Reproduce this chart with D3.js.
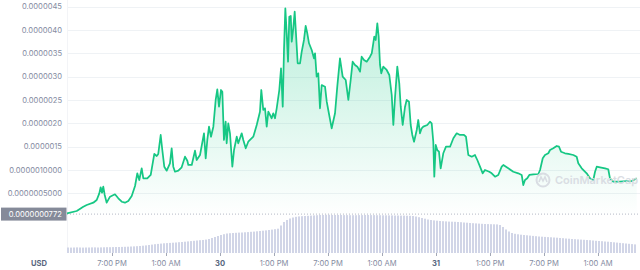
<!DOCTYPE html>
<html>
<head>
<meta charset="utf-8">
<script src="https://cdn.jsdelivr.net/npm/d3@7"></script>
<style>
  html, body { margin: 0; padding: 0; background: #fff; }
  svg { display: block; }
  text { font-family: Inter, "Liberation Sans", Arial, sans-serif; }
</style>
</head>
<body>
<svg id="chart" width="640" height="270"></svg>
<script>
// ---------- DATA ----------
const START = new Date(2022, 0, 29, 14, 0);   // first sample
const END = new Date(2022, 1, 1, 5, 40);      // right edge of plot
const PRICE_UNIT = 1e-7;                        // prices below are in units of 1e-7 USD

// hours since START
const priceHours = [
 0,1.08,1.81,2.19,2.92,3.3,3.59,3.74,3.89,4.03,4.19,4.41,4.78,5.33,5.7,6.08,6.44,6.81,7.19,7.56,
 7.81,8.03,8.3,8.48,8.92,9.3,9.52,9.7,9.97,10.14,10.41,10.59,10.81,11.08,11.44,11.63,11.81,12.0,12.37,12.74,
 13.11,13.37,13.48,13.86,14.22,14.41,14.78,15.22,15.41,15.59,15.78,16.0,16.26,16.52,16.7,16.89,17.11,17.26,17.44,17.63,
 17.74,17.92,18.11,18.37,18.56,18.86,19.03,19.41,19.59,19.86,20.14,20.7,21.08,21.44,21.59,21.81,22.0,22.19,22.37,22.56,
 22.74,22.92,23.11,23.3,23.59,23.78,23.97,24.11,24.26,24.41,24.56,24.7,24.86,24.97,25.14,25.3,25.44,25.63,25.89,26.08,
 26.33,26.52,26.7,26.89,27.19,27.44,27.56,27.74,27.92,28.11,28.3,28.67,28.86,29.03,29.41,29.78,30.03,30.33,30.63,30.97,
 31.26,31.52,31.74,32.0,32.26,32.56,32.74,33.0,33.3,33.67,33.86,34.03,34.14,34.3,34.48,34.63,34.78,34.92,35.14,35.52,
 35.81,36.08,36.26,36.44,36.7,36.92,37.08,37.3,37.56,37.74,38.0,38.19,38.37,38.56,38.86,39.03,39.22,39.41,39.59,40.03,
 40.33,40.52,40.7,40.81,40.97,41.14,41.33,41.52,41.81,42.11,42.56,42.93,43.3,43.67,44.11,44.33,44.59,44.97,45.33,45.59,
 45.89,46.19,46.44,46.92,47.19,47.56,47.92,48.3,48.48,49.03,49.59,50.14,50.52,50.7,50.89,51.14,51.37,51.81,52.37,52.56,
 52.86,53.11,53.48,53.67,54.03,54.41,54.67,54.89,55.33,55.7,56.26,56.63,56.81,57.19,57.74,58.11,58.48,58.67,58.86,59.22,
 59.78,60.14,60.33,60.7,61.44,62.19,62.74,63.11,63.3
];
const priceValues = [
 0.73,1.22,2.14,2.51,3.0,3.58,5.01,6.30,5.14,6.43,4.65,3.0,4.29,4.80,3.94,3.21,3.0,3.36,4.44,6.58,
 9.30,7.86,10.37,8.23,8.23,8.94,11.44,13.44,13.0,13.44,17.51,14.29,10.72,9.86,11.44,14.66,10.72,9.64,9.86,10.59,
 12.86,12.0,11.08,11.08,14.14,12.15,13.22,17.87,12.51,16.44,19.29,17.14,19.29,25.01,27.3,23.57,27.15,26.79,16.44,20.36,
 15.73,20.02,17.87,10.72,14.29,17.14,15.73,17.87,16.44,14.66,16.07,17.14,19.65,22.5,27.15,22.87,23.23,19.29,22.5,21.79,
 21.09,22.16,21.09,23.23,27.15,31.8,23.57,35.72,44.66,39.3,33.22,42.86,43.01,37.5,40.37,43.93,39.3,32.87,32.87,35.36,
 37.87,40.87,39.3,37.16,35.72,33.94,35.02,30.0,30.73,23.23,28.22,27.86,24.64,22.87,18.94,22.16,27.86,33.94,30.0,29.29,
 25.01,29.29,33.22,32.51,32.15,31.07,34.29,33.58,33.22,34.29,35.02,37.16,38.57,37.87,41.45,38.57,32.51,30.73,32.15,31.44,
 30.37,26.08,19.65,25.37,32.15,28.59,23.57,19.65,23.57,25.01,24.64,19.65,17.51,16.07,18.58,20.72,17.87,18.94,19.29,19.65,
 20.36,20.02,16.07,8.57,15.37,14.29,13.93,10.37,13.59,15.0,15.0,16.8,17.87,17.51,17.51,17.14,13.22,12.86,13.22,12.15,
 10.72,9.3,10.01,9.64,9.30,8.57,8.94,10.72,11.08,10.37,9.64,9.3,8.94,6.79,7.86,8.23,8.94,9.09,9.15,10.01,
 12.51,13.22,13.59,14.29,14.66,15.15,15.0,13.93,13.59,13.44,13.22,12.86,11.44,10.37,9.3,8.23,7.86,9.64,10.72,10.59,
 10.37,10.16,8.23,7.5,7.5,7.65,7.65,8.01,8.23
];

// volume, one bar every 20 minutes from START (arbitrary units)
const VOLUME_STEP_MIN = 20;
const volumes = [
 5.5,5.4,5.5,5.6,5.5,5.4,5.5,5.5,5.6,5.6,5.5,5.6,5.7,5.8,5.8,5.9,6.0,6.0,
 6.1,6.2,6.3,6.5,6.6,6.8,7.0,7.3,7.6,8.0,8.4,8.8,9.1,9.4,9.7,9.9,10.1,10.3,
 10.5,10.8,11.0,11.3,11.6,11.9,12.2,12.5,12.8,13.0,13.4,14.0,15.0,16.0,17.0,18.0,18.8,19.5,
 19.8,20.0,20.2,20.4,20.5,20.7,20.9,21.2,21.4,21.7,22.0,22.3,22.6,23.0,23.4,23.8,24.3,27.5,
 31.0,33.0,34.5,35.5,36.2,36.6,36.8,37.0,37.2,37.4,37.6,37.8,38.0,38.0,38.2,38.2,38.0,38.0,
 38.0,38.0,37.9,37.9,37.8,37.8,37.8,37.9,37.9,38.0,38.0,37.9,37.9,37.8,37.8,37.7,37.7,37.6,
 37.6,37.5,37.5,37.4,37.4,37.3,37.2,37.0,36.5,35.8,35.0,34.3,33.5,33.0,32.6,32.3,32.0,31.8,
 31.6,31.4,31.3,31.2,31.0,30.8,30.5,30.3,30.0,29.8,29.6,29.4,29.2,29.0,28.9,28.8,28.7,28.6,
 28.0,26.0,23.5,21.5,20.0,19.2,18.7,18.3,18.0,17.7,17.4,17.1,16.8,16.5,16.3,16.1,15.9,15.7,
 15.5,15.3,15.0,14.8,14.5,14.3,14.0,13.8,13.6,13.4,13.2,13.0,12.8,12.5,12.2,12.0,11.8,11.5,
 11.3,11.0,10.7,10.4,10.1,9.8,9.5,9.2,8.9,8.6
];
const VOLUME_MAX = 40;

const yTickValues = [5e-7, 1e-6, 1.5e-6, 2e-6, 2.5e-6, 3e-6, 3.5e-6, 4e-6, 4.5e-6];
const yTickLabels = ["0.0000005000","0.0000010000","0.0000015","0.0000020","0.0000025",
                     "0.0000030","0.0000035","0.0000040","0.0000045"];
const refPrice = 0.772e-7;
const refPriceLabel = "0.0000000772";
const currencyLabel = "USD";
const watermarkText = "CoinMarketCap";

// ---------- DRAW ----------
const svg = d3.select("#chart");
const left = 67, right = 640;

const x = d3.scaleTime().domain([START, END]).range([left, right]);
const y = d3.scaleLinear().domain([0, 4.5e-6]).range([216.7, 6.7]);
const yv = d3.scaleLinear().domain([0, VOLUME_MAX]).range([253, 213]);

const hourToDate = h => new Date(START.getTime() + h * 3600e3);
const priceData = priceHours.map((h, i) => ({ t: hourToDate(h), v: priceValues[i] * PRICE_UNIT }));
const volData = volumes.map((v, i) => ({ t: new Date(START.getTime() + i * VOLUME_STEP_MIN * 60e3), v }));

// gradient
const defs = svg.append("defs");
const grad = defs.append("linearGradient").attr("id", "areaGrad")
  .attr("gradientUnits", "userSpaceOnUse").attr("x1", 0).attr("x2", 0)
  .attr("y1", y(4.5e-6)).attr("y2", y(0));
grad.append("stop").attr("offset", "0%").attr("stop-color", "#16c784").attr("stop-opacity", 0.3);
grad.append("stop").attr("offset", "100%").attr("stop-color", "#16c784").attr("stop-opacity", 0.0);

// grid lines
svg.append("g").selectAll("line").data(yTickValues).join("line")
  .attr("x1", left).attr("x2", right)
  .attr("y1", d => Math.round(y(d)) + 0.5).attr("y2", d => Math.round(y(d)) + 0.5)
  .attr("stroke", "#eff2f5").attr("stroke-width", 1);
svg.append("line").attr("x1", left + 0.5).attr("x2", left + 0.5).attr("y1", 0).attr("y2", 253)
  .attr("stroke", "#f3f4f7");

// y labels
svg.append("g").selectAll("text").data(yTickValues).join("text")
  .attr("x", 62).attr("y", d => y(d)).attr("dy", "0.35em")
  .attr("text-anchor", "end").attr("font-size", 7.6).attr("fill", "#858ca2")
  .text((d, i) => yTickLabels[i]);

// volume bars
svg.append("g").selectAll("rect").data(volData).join("rect")
  .attr("x", d => x(d.t))
  .attr("width", 2)
  .attr("y", d => yv(d.v))
  .attr("height", d => yv(0) - yv(d.v))
  .attr("fill", "#d1d5e7");

// area + line
const area = d3.area().x(d => x(d.t)).y0(y(0)).y1(d => y(d.v));
const line = d3.line().x(d => x(d.t)).y(d => y(d.v));
svg.append("path").datum(priceData).attr("d", area).attr("fill", "url(#areaGrad)");

// reference dotted line
svg.append("line").attr("x1", left).attr("x2", right)
  .attr("y1", y(refPrice) + 1).attr("y2", y(refPrice) + 1)
  .attr("stroke", "#b4b9c6").attr("stroke-width", 1).attr("stroke-dasharray", "1,2");

svg.append("path").datum(priceData).attr("d", line)
  .attr("fill", "none").attr("stroke", "#16c784").attr("stroke-width", 1.75)
  .attr("stroke-linejoin", "round");

// watermark
const wm = svg.append("g").attr("opacity", 0.9);
wm.append("circle").attr("cx", 543).attr("cy", 180).attr("r", 6.5)
  .attr("fill", "none").attr("stroke", "#d7dae1").attr("stroke-width", 2);
wm.append("path").attr("d", "M539,182 L541,177 L543,181 L545,177 L547,182")
  .attr("fill", "none").attr("stroke", "#d7dae1").attr("stroke-width", 1.6);
wm.append("text").attr("x", 555).attr("y", 184).attr("font-size", 11).attr("font-weight", 600)
  .attr("fill", "#d7dae1").text(watermarkText);

// reference price box
const boxY = y(refPrice) + 1;
svg.append("rect").attr("x", 1).attr("y", boxY - 6.5).attr("width", 65.5).attr("height", 13)
  .attr("fill", "#858a99");
svg.append("text").attr("x", 62).attr("y", boxY).attr("dy", "0.35em")
  .attr("text-anchor", "end").attr("font-size", 7.6).attr("fill", "#fff").text(refPriceLabel);

// x axis
const xTicks = d3.timeHour.range(START, END).filter(d => d.getHours() % 6 === 1);
const isDay = d => d.getHours() === 7;
svg.append("g").selectAll("line").data(xTicks).join("line")
  .attr("x1", d => Math.round(x(d)) + 0.5).attr("x2", d => Math.round(x(d)) + 0.5)
  .attr("y1", 253).attr("y2", 256).attr("stroke", "#a3a8b6");
svg.append("g").selectAll("text").data(xTicks).join("text")
  .attr("x", d => x(d)).attr("y", 266)
  .attr("text-anchor", "middle").attr("font-size", 7.6)
  .attr("font-weight", d => isDay(d) ? 700 : 400)
  .attr("fill", d => isDay(d) ? "#58667e" : "#858ca2")
  .text(d => isDay(d) ? d3.timeFormat("%-d")(d) : d3.timeFormat("%-I:%M %p")(d));
svg.append("text").attr("x", 39).attr("y", 266).attr("text-anchor", "middle")
  .attr("font-size", 7.6).attr("font-weight", 700).attr("fill", "#58667e").text(currencyLabel);
</script>
</body>
</html>
